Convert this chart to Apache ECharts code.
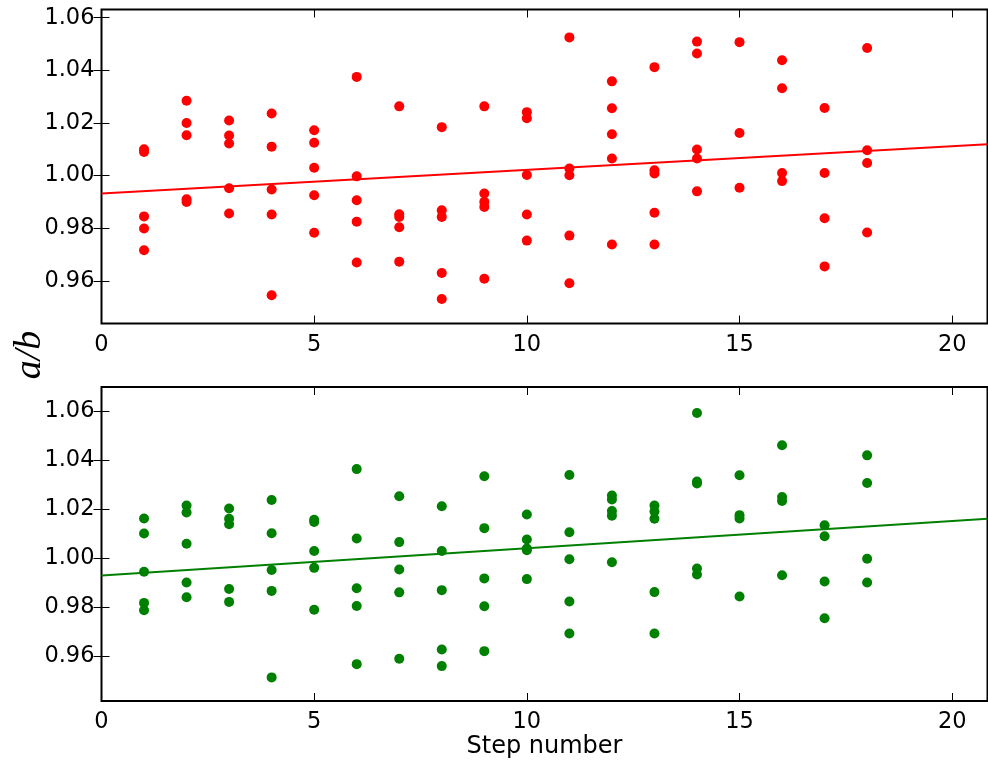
<!DOCTYPE html>
<html>
<head>
<meta charset="utf-8">
<script src="https://cdn.jsdelivr.net/npm/echarts@6/dist/echarts.min.js"></script>
<style>
  html, body { margin: 0; padding: 0; background: #fff; }
  #chart { width: 988px; height: 767px; }
</style>
</head>
<body>
<div id="chart"></div>
<script>
// Step numbers shared by both panels
const steps = [1, 2, 3, 4, 5, 6, 7, 8, 9, 10, 11, 12, 13, 14, 15, 16, 17, 18];

// a/b ratios per step, upper panel
const redValues = [
  [1.0100, 1.0090, 0.9845, 0.9799, 0.9716],
  [1.0284, 1.0200, 1.0153, 0.9910, 0.9900],
  [1.0209, 1.0152, 1.0122, 0.9952, 0.9856],
  [1.0236, 1.0110, 0.9947, 0.9852, 0.9545],
  [1.0172, 1.0125, 1.0030, 0.9925, 0.9783],
  [1.0375, 0.9997, 0.9906, 0.9825, 0.9670],
  [1.0263, 0.9853, 0.9843, 0.9804, 0.9673],
  [1.0184, 0.9868, 0.9843, 0.9630, 0.9531],
  [1.0263, 0.9932, 0.9900, 0.9881, 0.9608],
  [1.0241, 1.0218, 1.0002, 0.9852, 0.9753],
  [1.0525, 1.0027, 1.0001, 0.9772, 0.9591],
  [1.0358, 1.0256, 1.0157, 1.0065, 0.9738],
  [1.0412, 1.0020, 1.0008, 0.9859, 0.9738],
  [1.0509, 1.0464, 1.0099, 1.0065, 0.9940],
  [1.0507, 1.0162, 0.9954],
  [1.0438, 1.0332, 1.0010, 0.9979],
  [1.0257, 1.0010, 0.9838, 0.9655],
  [1.0485, 1.0096, 1.0048, 0.9784]
];

// a/b ratios per step, lower panel
const greenValues = [
  [1.0161, 1.0100, 0.9944, 0.9817, 0.9787],
  [1.0214, 1.0186, 1.0058, 0.9900, 0.9840],
  [1.0202, 1.0160, 1.0138, 0.9874, 0.9821],
  [1.0237, 1.0101, 0.9951, 0.9866, 0.9513],
  [1.0156, 1.0147, 1.0029, 0.9960, 0.9789],
  [1.0363, 1.0080, 0.9877, 0.9804, 0.9567],
  [1.0252, 1.0065, 0.9953, 0.9860, 0.9589],
  [1.0211, 1.0029, 0.9869, 0.9627, 0.9559],
  [1.0334, 1.0122, 0.9917, 0.9803, 0.9620],
  [1.0178, 1.0076, 1.0039, 1.0032, 0.9914],
  [1.0339, 1.0105, 0.9995, 0.9823, 0.9692],
  [1.0255, 1.0239, 1.0192, 1.0173, 0.9983],
  [1.0214, 1.0190, 1.0160, 0.9861, 0.9692],
  [1.0592, 1.0312, 1.0304, 0.9957, 0.9933],
  [1.0338, 1.0175, 1.0161, 0.9843],
  [1.0460, 1.0249, 1.0233, 0.9930],
  [1.0134, 1.0089, 0.9904, 0.9754],
  [1.0419, 1.0306, 0.9997, 0.9900]
];

// Linear fit end points (step, a/b)
const redFit = [[0, 0.9932], [20.83, 1.0119]];
const greenFit = [[0, 0.9929], [20.83, 1.0160]];

// Axis ranges and ticks
const xRange = [0, 20.83];
const xTicks = [0, 5, 10, 15, 20];
const yRangeTop = [0.9438, 1.0631];
const yRangeBottom = [0.94166, 1.0698];
const yTicks = [0.96, 0.98, 1.00, 1.02, 1.04, 1.06];

function points(groups) {
  const out = [];
  groups.forEach((vals, i) => vals.forEach(v => out.push([steps[i], v])));
  return out;
}

const FONT = 'DejaVu Sans';
const labelStyle = { color: '#000', fontFamily: FONT, fontSize: 22.5 };

function xAxisFor(grid, pos, withLabels, extra) {
  return Object.assign({
    type: 'value', gridIndex: grid, position: pos,
    min: xRange[0], max: xRange[1],
    axisLine: { show: false },
    splitLine: { show: false },
    axisTick: { show: true, inside: true, length: 8, customValues: xTicks,
                lineStyle: { color: '#000', width: 1 } },
    axisLabel: { show: withLabels, customValues: xTicks, margin: 10, ...labelStyle }
  }, extra || {});
}

function yAxisFor(grid, pos, withLabels, range) {
  return {
    type: 'value', gridIndex: grid, position: pos,
    min: range[0], max: range[1],
    axisLine: { show: false },
    splitLine: { show: false },
    axisTick: { show: true, inside: true, length: 8, customValues: yTicks,
                lineStyle: { color: '#000', width: 1 } },
    axisLabel: { show: withLabels, customValues: yTicks, margin: 7,
                 formatter: v => v.toFixed(2), ...labelStyle }
  };
}

const chart = echarts.init(document.getElementById('chart'), null, { renderer: 'canvas' });

chart.setOption({
  animation: false,
  backgroundColor: '#fff',
  grid: [
    { left: 101.5, top: 9.5, width: 886, height: 314, show: true,
      borderColor: '#000', borderWidth: 2, backgroundColor: 'transparent' },
    { left: 101.5, top: 387, width: 886, height: 314, show: true,
      borderColor: '#000', borderWidth: 2, backgroundColor: 'transparent' }
  ],
  xAxis: [
    xAxisFor(0, 'bottom', true),
    xAxisFor(1, 'bottom', true, {
      name: 'Step number', nameLocation: 'middle', nameGap: 32,
      nameTextStyle: { color: '#000', fontFamily: FONT, fontSize: 24 }
    }),
    xAxisFor(0, 'top', false),
    xAxisFor(1, 'top', false)
  ],
  yAxis: [
    yAxisFor(0, 'left', true, yRangeTop),
    yAxisFor(1, 'left', true, yRangeBottom),
    yAxisFor(0, 'right', false, yRangeTop),
    yAxisFor(1, 'right', false, yRangeBottom)
  ],
  graphic: [{
    type: 'text', x: 30, y: 355, rotation: Math.PI / 2,
    style: { text: 'a/b', fill: '#000', font: 'italic 38px "Liberation Serif"',
             align: 'center', verticalAlign: 'middle' }
  }],
  series: [
    { type: 'scatter', xAxisIndex: 0, yAxisIndex: 0, data: points(redValues),
      symbol: 'circle', symbolSize: 10, itemStyle: { color: '#ff0000', opacity: 1 }, silent: true, z: 2 },
    { type: 'line', xAxisIndex: 0, yAxisIndex: 0, data: redFit, showSymbol: false,
      lineStyle: { color: '#ff0000', width: 2 }, silent: true, z: 3 },
    { type: 'scatter', xAxisIndex: 1, yAxisIndex: 1, data: points(greenValues),
      symbol: 'circle', symbolSize: 10, itemStyle: { color: '#008000', opacity: 1 }, silent: true, z: 2 },
    { type: 'line', xAxisIndex: 1, yAxisIndex: 1, data: greenFit, showSymbol: false,
      lineStyle: { color: '#008000', width: 2 }, silent: true, z: 3 }
  ]
});
</script>
</body>
</html>
